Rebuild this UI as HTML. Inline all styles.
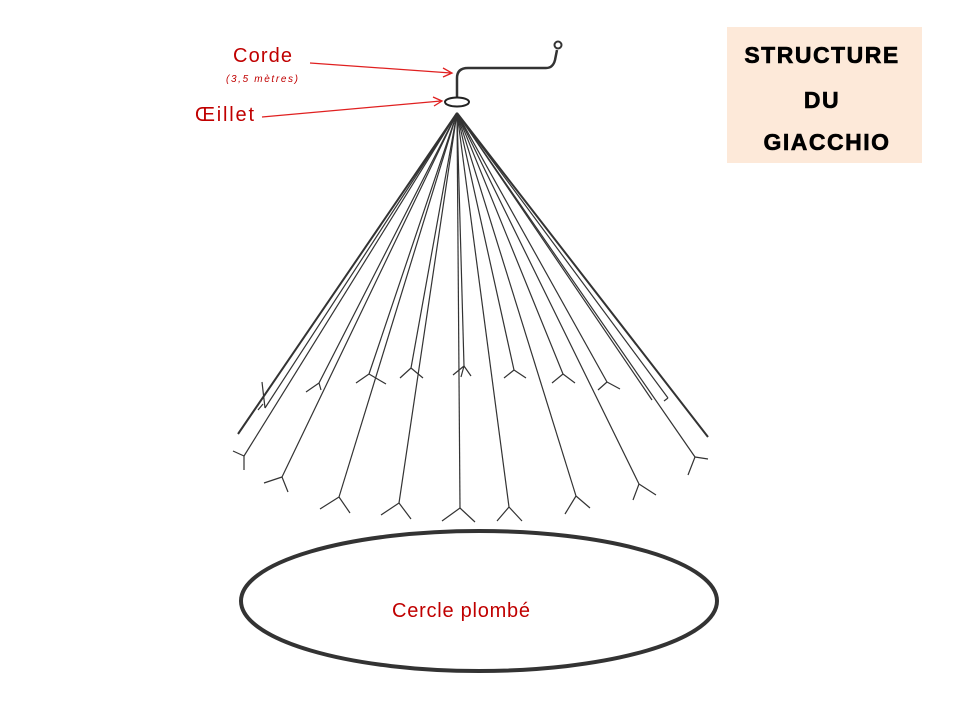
<!DOCTYPE html>
<html><head><meta charset="utf-8"><style>
html,body{margin:0;padding:0;background:#fff;}
svg{display:block;}
</style></head><body>
<svg width="960" height="720" viewBox="0 0 960 720" xmlns="http://www.w3.org/2000/svg">
<rect width="960" height="720" fill="#fff"/>
<rect x="727" y="27" width="195" height="136" fill="#fde9d9"/>
<g font-family="Liberation Sans, Arial, sans-serif" font-weight="bold" font-size="23" fill="#000" text-anchor="middle" stroke="#000" stroke-width="0.6">
<text x="822" y="63" letter-spacing="1.5">STRUCTURE</text>
<text x="822" y="108" letter-spacing="1.5">DU</text>
<text x="827" y="150" letter-spacing="1.5">GIACCHIO</text>
</g>
<!-- rope -->
<path d="M457,97 L457,78 Q457,68 468,68 L546,68 Q553,68 555,60 L557,50" fill="none" stroke="#333" stroke-width="2.5"/>
<circle cx="558" cy="45" r="3.5" fill="none" stroke="#333" stroke-width="2"/>
<ellipse cx="457" cy="102" rx="12" ry="4.5" fill="none" stroke="#222" stroke-width="2"/>
<!-- labels -->
<g font-family="Liberation Sans, Arial, sans-serif" fill="#c00000">
<text x="233" y="62" font-size="20" textLength="59">Corde</text>
<text x="226" y="82" font-size="10" font-style="italic" textLength="72">(3,5 mètres)</text>
<text x="195" y="121" font-size="20" textLength="59">Œillet</text>
<text x="392" y="617" font-size="20" textLength="138">Cercle plombé</text>
</g>
<g stroke="#e02020" stroke-width="1.3" fill="none">
<line x1="310" y1="63" x2="451" y2="73"/>
<path d="M443,68 L452,73 L443,77"/>
<line x1="262" y1="117" x2="441" y2="101"/>
<path d="M433,97 L442,101 L434,106"/>
</g>
<!-- net lines -->
<g stroke="#333" stroke-width="1.2" fill="none">
<line x1="457" y1="113" x2="238" y2="434" stroke-width="2"/>
<line x1="457" y1="113" x2="708" y2="437" stroke-width="2"/>
<line x1="457" y1="113" x2="244" y2="456"/>
<line x1="457" y1="113" x2="282" y2="477"/>
<line x1="457" y1="113" x2="339" y2="497"/>
<line x1="457" y1="113" x2="399" y2="503"/>
<line x1="457" y1="113" x2="460" y2="508"/>
<line x1="457" y1="113" x2="509" y2="507"/>
<line x1="457" y1="113" x2="576" y2="496"/>
<line x1="457" y1="113" x2="639" y2="484"/>
<line x1="457" y1="113" x2="695" y2="457"/>
<line x1="457" y1="113" x2="265" y2="408"/>
<line x1="457" y1="113" x2="319" y2="383"/>
<line x1="457" y1="113" x2="369" y2="374"/>
<line x1="457" y1="113" x2="411" y2="368"/>
<line x1="457" y1="113" x2="464" y2="366"/>
<line x1="457" y1="113" x2="514" y2="370"/>
<line x1="457" y1="113" x2="563" y2="374"/>
<line x1="457" y1="113" x2="607" y2="382"/>
<line x1="457" y1="113" x2="668" y2="398"/>
<line x1="457" y1="113" x2="652" y2="400"/>
<!-- forks -->
<path d="M244,456 L233,451 M244,456 L244,470"/>
<path d="M282,477 L264,483 M282,477 L288,492"/>
<path d="M339,497 L320,509 M339,497 L350,513"/>
<path d="M399,503 L381,515 M399,503 L411,519"/>
<path d="M460,508 L442,521 M460,508 L475,522"/>
<path d="M509,507 L497,521 M509,507 L522,521"/>
<path d="M576,496 L565,514 M576,496 L590,508"/>
<path d="M639,484 L633,500 M639,484 L656,495"/>
<path d="M695,457 L688,475 M695,457 L708,459"/>
<path d="M319,383 L306,392 M319,383 L321,390"/>
<path d="M369,374 L356,383 M369,374 L386,384"/>
<path d="M411,368 L400,378 M411,368 L423,378"/>
<path d="M464,366 L461,377 M464,366 L471,376 M464,366 L453,375"/>
<path d="M514,370 L504,378 M514,370 L526,378"/>
<path d="M563,374 L552,383 M563,374 L575,383"/>
<path d="M607,382 L598,390 M607,382 L620,389"/>
<path d="M265,408 L262,382 M263,404 L258,410"/>
<path d="M668,398 L664,401"/>
</g>
<ellipse cx="479" cy="601" rx="238" ry="70" fill="none" stroke="#333" stroke-width="4"/>
</svg>
</body></html>
